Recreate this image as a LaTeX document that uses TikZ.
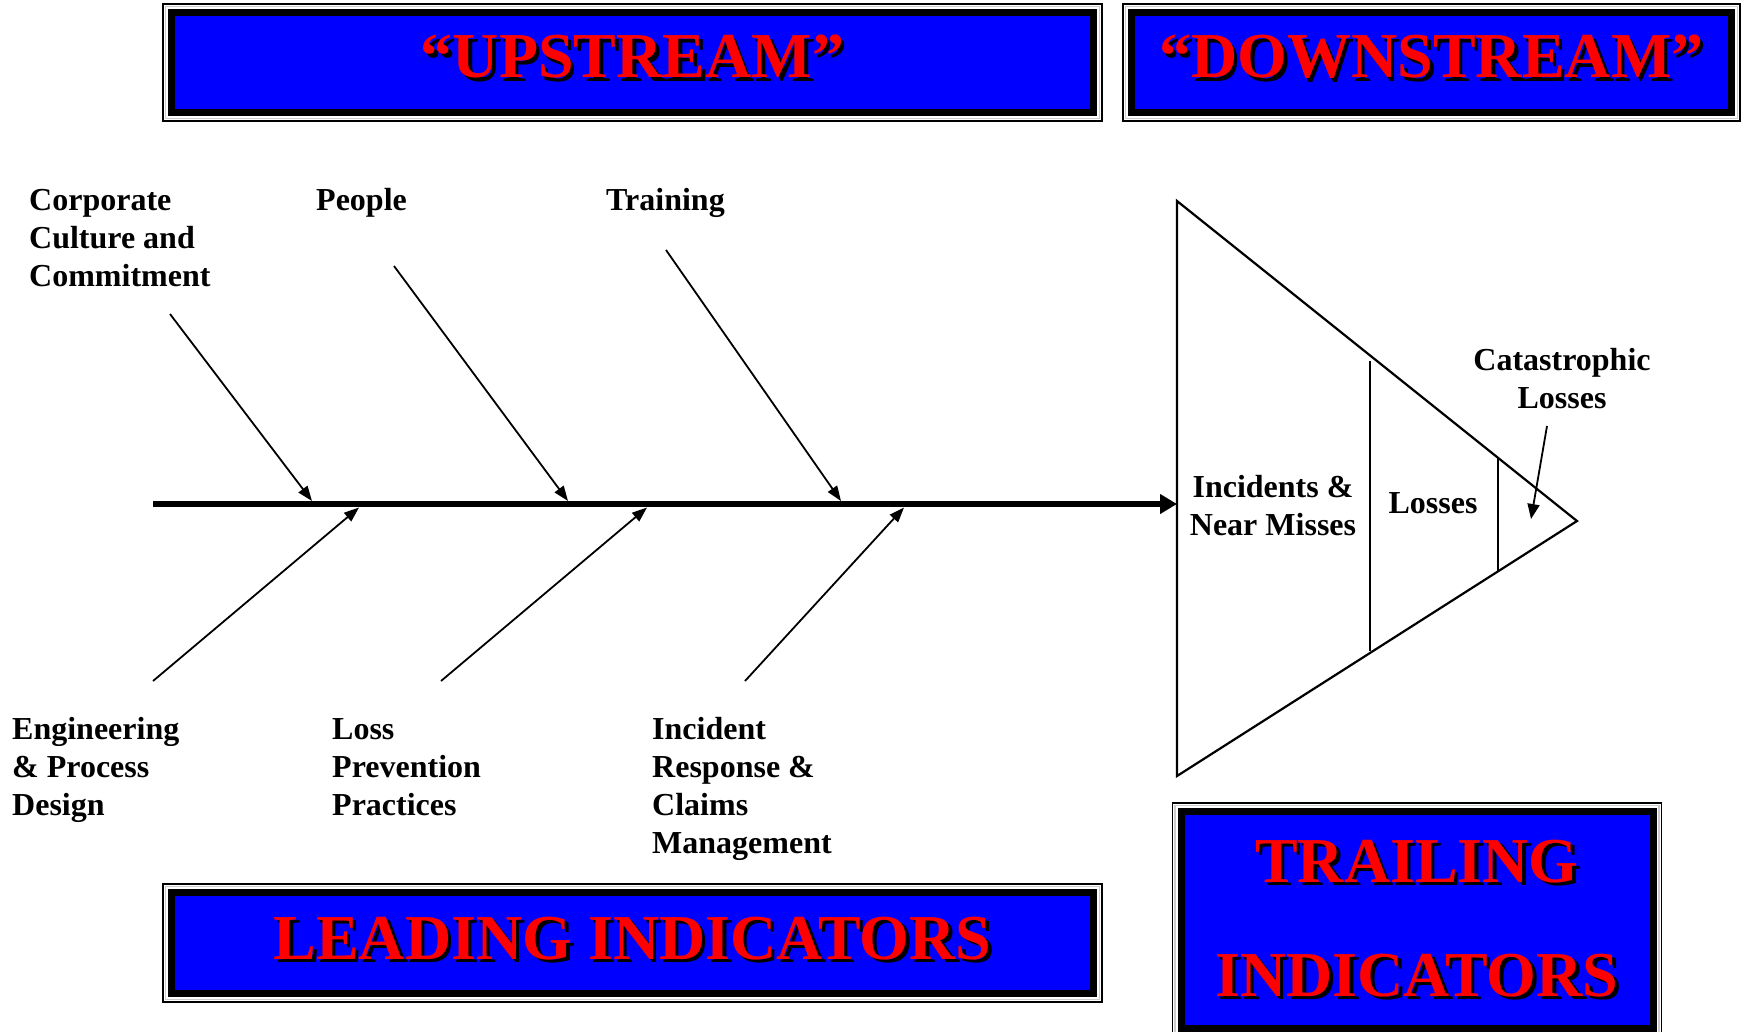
\documentclass[tikz,border=0pt]{standalone}
\usepackage{fontspec}
\setmainfont{Liberation Serif}
\usetikzlibrary{arrows.meta,calc}
\definecolor{tblue}{RGB}{0,0,255}
\definecolor{tred}{RGB}{255,0,0}
\newcommand\shadowed[1]{\makebox[0pt][l]{\hspace*{3.5pt}\raisebox{-3.5pt}{\color{black}#1}}{\color{tred}#1}}
\newcommand\fst{\rule{0pt}{24pt}}
\newcommand\tframe[1]{%
  \draw[gray!40, line width=1.6pt] ([xshift=-2.6pt,yshift=2.6pt]#1.north west) rectangle ([xshift=2.6pt,yshift=-2.6pt]#1.south east);
  \draw[black, line width=1.8pt] ([xshift=-5pt,yshift=5pt]#1.north west) rectangle ([xshift=5pt,yshift=-5pt]#1.south east);}
\tikzset{
  lbl/.style={font=\fontsize{32}{38}\selectfont\bfseries, inner sep=0pt, align=left, anchor=north west},
  clbl/.style={font=\fontsize{32}{38}\selectfont\bfseries, inner sep=0pt, align=center, anchor=north},
  titlebox/.style={draw=black, line width=7pt, fill=tblue, inner sep=0pt, font=\fontsize{64}{70}\selectfont\bfseries},
  branch/.style={line width=1.8pt, -{Triangle[length=15pt,width=11pt]}},
  spine/.style={line width=6pt, -{Triangle[length=17pt,width=19pt]}},
  fish/.style={line width=2.2pt, line join=miter},
}
\begin{document}
\begin{tikzpicture}[x=1pt,y=-1pt]
\useasboundingbox (0,0) rectangle (1748,1031);
\clip (0,0) rectangle (1748,1031);

% title boxes
\node[titlebox, minimum width=922pt, minimum height=100pt] (up) at (632.5,62.5)
  {\raisebox{6pt}[\height][0pt]{\shadowed{“UPSTREAM”}}};
\tframe{up}
\node[titlebox, minimum width=600pt, minimum height=100pt] (down) at (1431.5,62.5)
  {\raisebox{6pt}[\height][0pt]{\shadowed{“DOWNSTREAM”}}};
\tframe{down}
\node[titlebox, minimum width=922pt, minimum height=101pt] (lead) at (632.5,943)
  {\raisebox{5pt}[\height][0pt]{\shadowed{LEADING INDICATORS}}};
\tframe{lead}
\node[titlebox, minimum width=472pt, minimum height=217pt, align=center,
      font=\fontsize{64}{114}\selectfont\bfseries] (trail) at (1417,920)
  {\shadowed{TRAILING}\\\shadowed{INDICATORS}};
\tframe{trail}

% cause labels
\node[lbl] (corp) at (29,186) {\fst Corporate\\Culture and\\Commitment};
\node[lbl] (people) at (316,186) {\fst People};
\node[lbl] (train) at (606,186) {\fst Training};
\node[lbl] (eng) at (12,715) {\fst Engineering\\\& Process\\Design};
\node[lbl] (loss) at (332,715) {\fst Loss\\Prevention\\Practices};
\node[lbl] (inc) at (652,715) {\fst Incident\\Response \&\\Claims\\Management};

% spine
\coordinate (s0) at (153,504);
\coordinate (s1) at (1177,504);
\draw[spine] (s0) -- (s1);

% branches
\coordinate (u1a) at (170,314);  \coordinate (u1b) at (312,501);
\coordinate (u2a) at (394,266);  \coordinate (u2b) at (568,501);
\coordinate (u3a) at (666,250);  \coordinate (u3b) at (841,501);
\coordinate (l1a) at (153,681);  \coordinate (l1b) at (359,507.5);
\coordinate (l2a) at (441,681);  \coordinate (l2b) at (647,507.5);
\coordinate (l3a) at (745,681);  \coordinate (l3b) at (904,507.5);
\draw[branch] (u1a) -- (u1b);
\draw[branch] (u2a) -- (u2b);
\draw[branch] (u3a) -- (u3b);
\draw[branch] (l1a) -- (l1b);
\draw[branch] (l2a) -- (l2b);
\draw[branch] (l3a) -- (l3b);

% fish head triangle
\coordinate (t1) at (1177,201);
\coordinate (t2) at (1177,776);
\coordinate (t3) at (1577,521);
\draw[fish] (t1) -- (t3) -- (t2) -- cycle;
\coordinate (v1a) at (1370,361); \coordinate (v1b) at (1370,651);
\coordinate (v2a) at (1498,457); \coordinate (v2b) at (1498,572);
\draw[line width=2pt] (v1a) -- (v1b);
\draw[line width=2pt] (v2a) -- (v2b);

\node[clbl] (near) at (1273,473) {\fst Incidents \&\\Near Misses};
\node[clbl] (losses) at (1433,489) {\fst Losses};
\node[clbl] (cat) at (1562,346) {\fst Catastrophic\\Losses};
\coordinate (ca) at (1547,426);
\coordinate (cb) at (1531,519);
\draw[line width=1.8pt, -{Triangle[length=15pt,width=12pt]}] (ca) -- (cb);
\end{tikzpicture}
\end{document}
